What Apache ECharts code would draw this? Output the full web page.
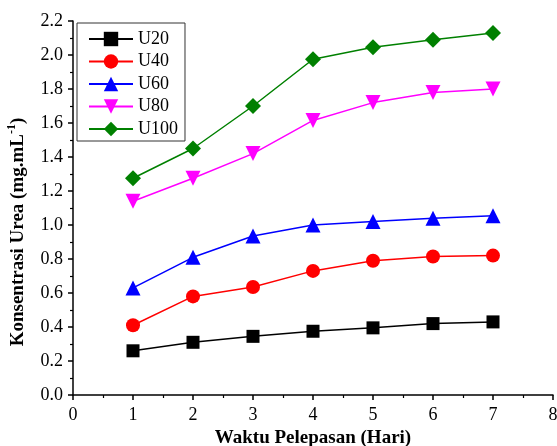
<!DOCTYPE html>
<html>
<head>
<meta charset="utf-8">
<script src="https://cdn.jsdelivr.net/npm/echarts@6/dist/echarts.min.js"></script>
<style>
html,body{margin:0;padding:0;background:#fff;}
#chart{width:557px;height:446px;}
</style>
</head>
<body>
<div id="chart"></div>
<script>
// Release time (days)
const days = [1, 2, 3, 4, 5, 6, 7];
// Urea concentration (mg/mL) per formulation
const u20 = [0.26, 0.31, 0.345, 0.375, 0.395, 0.42, 0.43];
const u40 = [0.41, 0.58, 0.635, 0.73, 0.79, 0.815, 0.82];
const u60 = [0.63, 0.81, 0.935, 1.0, 1.02, 1.04, 1.055];
const u80 = [1.14, 1.275, 1.42, 1.615, 1.72, 1.78, 1.80];
const u100 = [1.275, 1.45, 1.70, 1.975, 2.045, 2.09, 2.13];
const seriesNames = ['U20', 'U40', 'U60', 'U80', 'U100'];

const font = 'Liberation Serif, Times New Roman, serif';
const styles = [
  { color: '#000000', symbol: 'rect', size: 13 },
  { color: '#ff0000', symbol: 'circle', size: 14 },
  { color: '#0000ff', symbol: 'triangle', size: 15 },
  { color: '#ff00ff', symbol: 'path://M0,0 L10,0 L5,9 Z', size: 15 },
  { color: '#008000', symbol: 'diamond', size: 16 }
];
const values = [u20, u40, u60, u80, u100];

const chart = echarts.init(document.getElementById('chart'));
chart.setOption({
  animation: false,
  backgroundColor: '#fff',
  grid: { left: 73, right: 4, top: 21, bottom: 51, containLabel: false, outerBoundsMode: 'none' },
  legend: {
    orient: 'vertical',
    left: 77,
    top: 23,
    padding: [7, 7, 3, 11],
    borderColor: '#333',
    borderWidth: 1,
    itemGap: 4.5,
    itemWidth: 44,
    itemHeight: 18,
    textStyle: { fontFamily: font, fontSize: 18, color: '#000' },
    data: seriesNames
  },
  graphic: [{
    type: 'text',
    x: 17,
    y: 232,
    rotation: Math.PI / 2,
    style: {
      text: '{a|Konsentrasi Urea (mg.mL}{s|-1}{a|)}',
      align: 'center',
      verticalAlign: 'middle',
      rich: {
        a: { fontFamily: font, fontSize: 19, fontWeight: 'bold', fill: '#000', lineHeight: 22, verticalAlign: 'bottom' },
        s: { fontFamily: font, fontSize: 12, fontWeight: 'bold', fill: '#000', lineHeight: 22, verticalAlign: 'top' }
      }
    }
  }],
  xAxis: {
    type: 'value',
    min: 0, max: 8, interval: 1,
    name: 'Waktu Pelepasan (Hari)',
    nameLocation: 'middle',
    nameGap: 33,
    nameTextStyle: { fontFamily: font, fontSize: 19, fontWeight: 'bold', color: '#000' },
    axisLine: { lineStyle: { color: '#000', width: 1.5 } },
    axisTick: { inside: false, length: 5, lineStyle: { color: '#000', width: 1.5 } },
    minorTick: { show: true, splitNumber: 2, length: 3, lineStyle: { color: '#000', width: 1.2 } },
    axisLabel: { fontFamily: font, fontSize: 18, color: '#000', margin: 11 },
    splitLine: { show: false }
  },
  yAxis: {
    type: 'value',
    min: 0, max: 2.2, interval: 0.2,
    axisLine: { show: true, lineStyle: { color: '#000', width: 1.5 } },
    axisTick: { show: true, inside: false, length: 5, lineStyle: { color: '#000', width: 1.5 } },
    minorTick: { show: true, splitNumber: 2, length: 3, lineStyle: { color: '#000', width: 1.2 } },
    axisLabel: {
      fontFamily: font, fontSize: 18, color: '#000', margin: 10,
      formatter: v => v.toFixed(1)
    },
    splitLine: { show: false }
  },
  series: seriesNames.map((name, i) => ({
    name: name,
    type: 'line',
    data: days.map((d, j) => [d, values[i][j]]),
    symbol: styles[i].symbol,
    symbolSize: styles[i].size,
    showSymbol: true,
    lineStyle: { color: styles[i].color, width: 1.5 },
    itemStyle: { color: styles[i].color },
    emphasis: { disabled: true }
  }))
});
</script>
</body>
</html>
